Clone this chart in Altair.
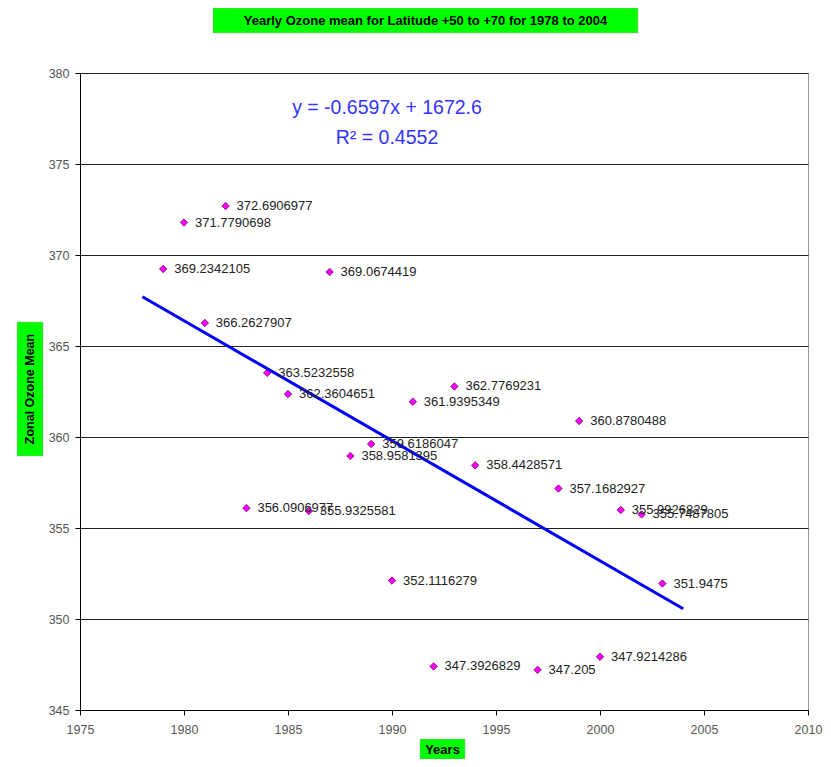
import altair as alt
import pandas as pd

# ---- data ----
years = [1979, 1980, 1981, 1982, 1983, 1984, 1985, 1986, 1987, 1988, 1989,
         1990, 1991, 1992, 1993, 1994, 1997, 1998, 1999, 2000, 2001, 2002, 2003]
values = [369.2342105, 371.7790698, 366.2627907, 372.6906977, 356.0906977,
          363.5232558, 362.3604651, 355.9325581, 369.0674419, 358.9581395,
          359.6186047, 352.1116279, 361.9395349, 347.3926829, 362.7769231,
          358.4428571, 347.205, 357.1682927, 360.8780488, 347.9214286,
          355.9926829, 355.7487805, 351.9475]
trend_years = [1978, 2004]
trend_values = [367.71, 350.56]
x_ticks = [1975, 1980, 1985, 1990, 1995, 2000, 2005, 2010]
y_ticks = [345, 350, 355, 360, 365, 370, 375, 380]

title_text = "Yearly Ozone mean for Latitude +50 to +70 for 1978 to 2004"
x_title = "Years"
y_title = "Zonal Ozone Mean"
eq_line1 = "y = -0.6597x + 1672.6"
eq_line2 = "R\u00b2 = 0.4552"

df = pd.DataFrame({"year": years, "ozone": values, "label": [str(v) for v in values]})
trend = pd.DataFrame({"year": trend_years, "ozone": trend_values})
one = pd.DataFrame({"k": [0]})

W, H = 728, 637
FONT = "Liberation Sans"

x_scale = alt.Scale(domain=[1975, 2010], nice=False)
y_scale = alt.Scale(domain=[345, 380], nice=False, zero=False)

x_enc = alt.X("year:Q", scale=x_scale,
              axis=alt.Axis(values=x_ticks, format="d", title=None, grid=False,
                            labelColor="#555555", labelFontSize=12.5, labelFont=FONT,
                            tickColor="#000000", tickSize=5, labelPadding=8,
                            domainColor="#000000", labelFlush=False))
y_enc = alt.Y("ozone:Q", scale=y_scale,
              axis=alt.Axis(values=y_ticks, title=None, grid=True,
                            gridColor="#222222", gridWidth=1,
                            labelColor="#555555", labelFontSize=12.5, labelFont=FONT,
                            tickColor="#000000", tickSize=5, labelPadding=6,
                            domainColor="#000000"))

base = alt.Chart(df)

points = base.mark_point(shape="diamond", filled=True, fill="#FF00FF",
                         stroke="#660066", strokeWidth=0.8, size=55,
                         opacity=1).encode(x=x_enc, y=y_enc)

labels = base.mark_text(align="left", baseline="middle", dx=11, fontSize=13,
                        font=FONT, color="#222222").encode(
    x=alt.X("year:Q", scale=x_scale), y=alt.Y("ozone:Q", scale=y_scale),
    text="label:N")

trend_line = alt.Chart(trend).mark_line(color="#0000FF", strokeWidth=3).encode(
    x=alt.X("year:Q", scale=x_scale), y=alt.Y("ozone:Q", scale=y_scale))

eq1 = alt.Chart(one).mark_text(text=eq_line1, fontSize=19.5, font=FONT,
                               color="#3333FF", align="center", baseline="middle").encode(
    x=alt.value(307), y=alt.value(35))
eq2 = alt.Chart(one).mark_text(text=eq_line2, fontSize=19.5, font=FONT,
                               color="#3333FF", align="center", baseline="middle").encode(
    x=alt.value(307), y=alt.value(65))

# green title boxes
title_box = alt.Chart(one).mark_rect(color="#00FF00", stroke="#aaaaaa", strokeWidth=0.5).encode(
    x=alt.value(133), x2=alt.value(558), y=alt.value(-65), y2=alt.value(-40))
title_txt = alt.Chart(one).mark_text(text=title_text, fontSize=13, fontWeight="bold",
                                     font=FONT, color="#000000", align="center",
                                     baseline="middle").encode(
    x=alt.value(345.5), y=alt.value(-52))

ybox = alt.Chart(one).mark_rect(color="#00FF00", stroke="#aaaaaa", strokeWidth=0.5).encode(
    x=alt.value(-63), x2=alt.value(-37), y=alt.value(249), y2=alt.value(383))
ytxt = alt.Chart(one).mark_text(text=y_title, fontSize=12.5, fontWeight="bold",
                                font=FONT, color="#000000", angle=270, align="center",
                                baseline="middle").encode(
    x=alt.value(-50), y=alt.value(316))

xbox = alt.Chart(one).mark_rect(color="#00FF00", stroke="#aaaaaa", strokeWidth=0.5).encode(
    x=alt.value(340), x2=alt.value(385), y=alt.value(666), y2=alt.value(687))
xtxt = alt.Chart(one).mark_text(text=x_title, fontSize=13, fontWeight="bold",
                                font=FONT, color="#000000", align="center",
                                baseline="middle").encode(
    x=alt.value(362.5), y=alt.value(677))

chart = alt.layer(
    points, trend_line, labels, eq1, eq2,
    title_box, title_txt, ybox, ytxt, xbox, xtxt
).properties(
    width=W, height=H,
    autosize="none",
    padding={"left": 72, "top": 65, "right": 15, "bottom": 49},
    background="#ffffff",
).configure_view(stroke="#999999", strokeWidth=1)

chart.save("out.html", embed_options={"renderer": "svg", "actions": False})
